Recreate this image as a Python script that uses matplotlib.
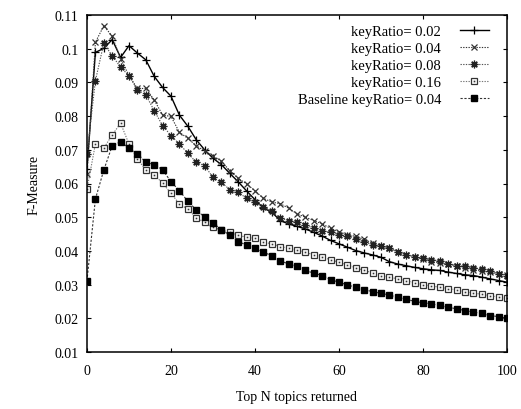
import matplotlib
matplotlib.use("Agg")
import matplotlib.pyplot as plt
import numpy as np

plt.rcParams['font.family'] = ['Liberation Serif', 'DejaVu Serif']

top_n = list(range(0, 101, 2))

kr002 = [0.0643, 0.0989, 0.1001, 0.1027, 0.0974, 0.1009, 0.0987, 0.0967, 0.0918, 0.0885,
         0.0859, 0.0803, 0.0770, 0.0730, 0.0700, 0.0675, 0.0656, 0.0630, 0.0605, 0.0578,
         0.0552, 0.0527, 0.0515, 0.0490, 0.0480, 0.0473, 0.0465, 0.0455, 0.0444, 0.0431,
         0.0421, 0.0411, 0.0401, 0.0394, 0.0388, 0.0381, 0.0368, 0.0361, 0.0356, 0.0351,
         0.0347, 0.0344, 0.0342, 0.0337, 0.0333, 0.0329, 0.0327, 0.0322, 0.0317, 0.0312, 0.0307]
kr004 = [0.0628, 0.1019, 0.1068, 0.1037, 0.0970, 0.0920, 0.0882, 0.0882, 0.0848, 0.0803,
         0.0799, 0.0752, 0.0734, 0.0712, 0.0697, 0.0681, 0.0666, 0.0638, 0.0615, 0.0599,
         0.0578, 0.0556, 0.0545, 0.0540, 0.0527, 0.0510, 0.0500, 0.0490, 0.0480, 0.0467,
         0.0457, 0.0448, 0.0443, 0.0434, 0.0423, 0.0416, 0.0408, 0.0398, 0.0388, 0.0383,
         0.0376, 0.0368, 0.0364, 0.0361, 0.0356, 0.0350, 0.0344, 0.0340, 0.0337, 0.0332, 0.0329]
kr008 = [0.0688, 0.0905, 0.1016, 0.0979, 0.0945, 0.0920, 0.0878, 0.0863, 0.0816, 0.0772,
         0.0742, 0.0717, 0.0690, 0.0663, 0.0653, 0.0618, 0.0603, 0.0582, 0.0574, 0.0556,
         0.0545, 0.0530, 0.0517, 0.0497, 0.0490, 0.0487, 0.0477, 0.0467, 0.0460, 0.0455,
         0.0448, 0.0444, 0.0434, 0.0426, 0.0418, 0.0414, 0.0408, 0.0396, 0.0388, 0.0383,
         0.0378, 0.0373, 0.0371, 0.0361, 0.0356, 0.0354, 0.0349, 0.0347, 0.0340, 0.0332, 0.0327]
kr016 = [0.0584, 0.0717, 0.0705, 0.0744, 0.0779, 0.0717, 0.0673, 0.0640, 0.0626, 0.0601,
         0.0571, 0.0539, 0.0524, 0.0498, 0.0485, 0.0470, 0.0462, 0.0455, 0.0447, 0.0440,
         0.0437, 0.0426, 0.0421, 0.0413, 0.0408, 0.0403, 0.0396, 0.0388, 0.0381, 0.0374,
         0.0366, 0.0358, 0.0350, 0.0342, 0.0335, 0.0327, 0.0322, 0.0317, 0.0311, 0.0306,
         0.0300, 0.0296, 0.0292, 0.0288, 0.0284, 0.0279, 0.0275, 0.0271, 0.0267, 0.0263, 0.0259]
baseline = [0.0312, 0.0554, 0.0640, 0.0712, 0.0724, 0.0705, 0.0688, 0.0663, 0.0656, 0.0641,
            0.0605, 0.0579, 0.0547, 0.0522, 0.0500, 0.0483, 0.0463, 0.0447, 0.0427, 0.0418,
            0.0408, 0.0396, 0.0386, 0.0371, 0.0361, 0.0354, 0.0342, 0.0334, 0.0327, 0.0315,
            0.0307, 0.0299, 0.0292, 0.0285, 0.0279, 0.0274, 0.0269, 0.0262, 0.0257, 0.0250,
            0.0246, 0.0243, 0.0238, 0.0233, 0.0228, 0.0223, 0.0218, 0.0215, 0.0208, 0.0205, 0.0200]

labels = ["keyRatio= 0.02", "keyRatio= 0.04", "keyRatio= 0.08",
          "keyRatio= 0.16", "Baseline keyRatio= 0.04"]
x_ticks = [0, 20, 40, 60, 80, 100]
y_ticks = [0.01, 0.02, 0.03, 0.04, 0.05, 0.06, 0.07, 0.08, 0.09, 0.1, 0.11]
y_tick_labels = ["0.01", "0.02", "0.03", "0.04", "0.05", "0.06", "0.07", "0.08", "0.09", "0.1", "0.11"]

fig = plt.figure(figsize=(5.21, 4.10), dpi=100)
ax = fig.add_axes([87/521, 1 - 353/410, (507-87)/521, (353-16)/410])

dot = (0, (1.2, 1.2))
h1, = ax.plot(top_n, kr002, color='black', lw=1.0, ls='-', marker='+', ms=6, mew=0.9)
h2, = ax.plot(top_n, kr004, color='#333333', lw=0.8, ls=dot, marker='x', ms=5, mew=0.9)
h3, = ax.plot(top_n, kr008, color='#555555', lw=0.8, ls=dot, marker=(8, 2, 0), ms=5.5, mew=0.9,
              mec='#222222')
h4a, = ax.plot(top_n, kr016, color='#777777', lw=0.8, ls=dot, marker='s', ms=5, mew=0.9,
               mfc='white', mec='#333333')
h4b, = ax.plot(top_n, kr016, ls='none', marker='s', ms=1.2, mew=0, mfc='#333333')
h5, = ax.plot(top_n, baseline, color='#333333', lw=0.8, ls=(0, (2, 1.5)), marker='s', ms=4.5,
              mfc='black', mec='black')

ax.set_xlim(0, 100)
ax.set_ylim(0.01, 0.11)
ax.set_xticks(x_ticks)
ax.set_yticks(y_ticks)
ax.set_yticklabels(y_tick_labels)
ax.tick_params(direction='in', length=3, width=0.8, top=True, right=True,
               labelsize=10, colors='black')
ax.tick_params(axis='y', pad=6)
ax.tick_params(axis='x', pad=9)
for s in ax.spines.values():
    s.set_linewidth(1.1)

ax.set_xlabel("Top N topics returned", fontsize=10, labelpad=9)
ax.set_ylabel("F-Measure", fontsize=10, labelpad=10)

leg = ax.legend([h1, h2, h3, (h4a, h4b), h5], labels, loc='upper right',
                bbox_to_anchor=(0.985, 1.005), frameon=False, markerfirst=False,
                fontsize=10.5, handlelength=2.0, handletextpad=1.3,
                labelspacing=0.25, borderaxespad=0.4)

fig.savefig("out.png", dpi=100)
